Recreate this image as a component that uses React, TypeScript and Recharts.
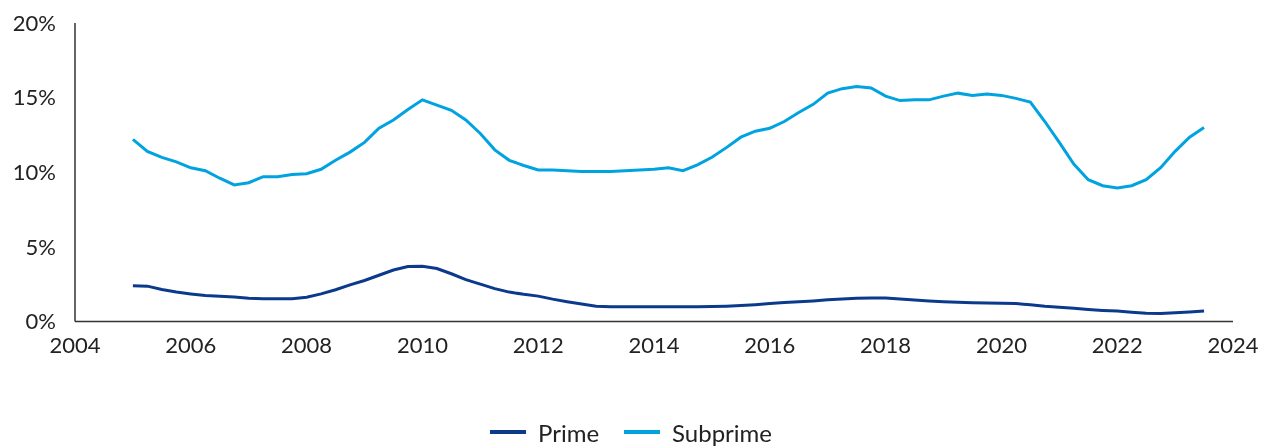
import React from 'react';
import { LineChart, Line, XAxis, YAxis, Legend } from 'recharts';

// quarter points, as decimal years
const dates = [
  2005.0, 2005.25, 2005.5, 2005.75, 2006.0, 2006.25, 2006.5, 2006.75,
  2007.0, 2007.25, 2007.5, 2007.75, 2008.0, 2008.25, 2008.5, 2008.75,
  2009.0, 2009.25, 2009.5, 2009.75, 2010.0, 2010.25, 2010.5, 2010.75,
  2011.0, 2011.25, 2011.5, 2011.75, 2012.0, 2012.25, 2012.5, 2012.75,
  2013.0, 2013.25, 2013.5, 2013.75, 2014.0, 2014.25, 2014.5, 2014.75,
  2015.0, 2015.25, 2015.5, 2015.75, 2016.0, 2016.25, 2016.5, 2016.75,
  2017.0, 2017.25, 2017.5, 2017.75, 2018.0, 2018.25, 2018.5, 2018.75,
  2019.0, 2019.25, 2019.5, 2019.75, 2020.0, 2020.25, 2020.5, 2020.75,
  2021.0, 2021.25, 2021.5, 2021.75, 2022.0, 2022.25, 2022.5, 2022.75,
  2023.0, 2023.25, 2023.5,
];

const prime = [
  2.4, 2.37, 2.15, 1.97, 1.85, 1.75, 1.7, 1.64,
  1.55, 1.52, 1.52, 1.53, 1.62, 1.85, 2.13, 2.45,
  2.75, 3.1, 3.45, 3.68, 3.7, 3.55, 3.2, 2.8,
  2.5, 2.2, 1.97, 1.82, 1.7, 1.5, 1.33, 1.17,
  1.02, 0.99, 0.99, 0.99, 0.99, 0.99, 0.99, 0.99,
  1.0, 1.03, 1.08, 1.13, 1.2, 1.27, 1.33, 1.38,
  1.45, 1.5, 1.56, 1.58, 1.57, 1.5, 1.44, 1.38,
  1.33, 1.29, 1.26, 1.24, 1.22, 1.2, 1.12, 1.02,
  0.96, 0.88, 0.8, 0.74, 0.7, 0.62, 0.55, 0.53,
  0.58, 0.63, 0.7,
];

const subprime = [
  12.2, 11.4, 11.0, 10.7, 10.3, 10.1, 9.6, 9.15,
  9.3, 9.7, 9.7, 9.85, 9.9, 10.2, 10.8, 11.35,
  12.0, 12.95, 13.5, 14.2, 14.85, 14.5, 14.15, 13.5,
  12.6, 11.5, 10.8, 10.45, 10.15, 10.15, 10.1, 10.05,
  10.05, 10.05, 10.1, 10.15, 10.2, 10.3, 10.1, 10.5,
  11.0, 11.65, 12.35, 12.75, 12.95, 13.4, 14.0, 14.55,
  15.3, 15.6, 15.75, 15.65, 15.1, 14.8, 14.85, 14.85,
  15.1, 15.3, 15.15, 15.25, 15.15, 14.95, 14.7, 13.4,
  12.0, 10.55, 9.5, 9.1, 8.95, 9.1, 9.5, 10.3,
  11.4, 12.35, 13.0,
];

const yearTicks = [2004, 2006, 2008, 2010, 2012, 2014, 2016, 2018, 2020, 2022, 2024];
const pctTicks = [0, 5, 10, 15, 20];

const PRIME_COLOR = '#0b3a8c';
const SUBPRIME_COLOR = '#00a3e0';
const FONT = 'Lato, "Open Sans", sans-serif';

const data = dates.map((d, i) => ({ date: d, prime: prime[i], subprime: subprime[i] }));

const LegendBox = () => {
  const items = [
    { name: 'Prime', color: PRIME_COLOR },
    { name: 'Subprime', color: SUBPRIME_COLOR },
  ];
  return (
    <div style={{ display: 'flex', justifyContent: 'center', alignItems: 'center', height: 26, paddingRight: 8, fontFamily: FONT, fontSize: 24, color: '#222' }}>
      {items.map((it, i) => (
        <div key={it.name} style={{ display: 'flex', alignItems: 'center', marginLeft: i ? 25 : 0 }}>
          <span style={{ display: 'inline-block', width: 36, height: 4, background: it.color, marginRight: 12 }} />
          <span>{it.name}</span>
        </div>
      ))}
    </div>
  );
};

export default function App() {
  return (
    <div style={{ position: 'fixed', left: 8, top: 8 }}>
      <LineChart width={1254} height={439} data={data} margin={{ top: 15, right: 29, left: 7, bottom: 69.5 }} style={{ overflow: 'visible' }}>
        <XAxis
          dataKey="date"
          type="number"
          domain={[2004, 2024]}
          ticks={yearTicks}
          interval={0}
          tickLine={false}
          tickSize={0}
          tickMargin={16}
          height={30}
          stroke="#333"
          strokeWidth={1.5}
          tick={{ fill: '#222', fontSize: 22, fontFamily: FONT }}
        />
        <YAxis
          type="number"
          domain={[0, 20]}
          ticks={pctTicks}
          interval={0}
          width={60}
          tickLine={false}
          tickSize={0}
          tickMargin={19}
          stroke="#333"
          strokeWidth={1.5}
          tickFormatter={(v: number) => `${v}%`}
          tick={{ fill: '#222', fontSize: 22, fontFamily: FONT }}
        />
        <Legend verticalAlign="bottom" content={<LegendBox />} wrapperStyle={{ top: 411, left: 0, width: 1254 }} />
        <Line type="linear" dataKey="prime" name="Prime" stroke={PRIME_COLOR} strokeWidth={3} dot={false} isAnimationActive={false} />
        <Line type="linear" dataKey="subprime" name="Subprime" stroke={SUBPRIME_COLOR} strokeWidth={3} dot={false} isAnimationActive={false} />
      </LineChart>
    </div>
  );
}
